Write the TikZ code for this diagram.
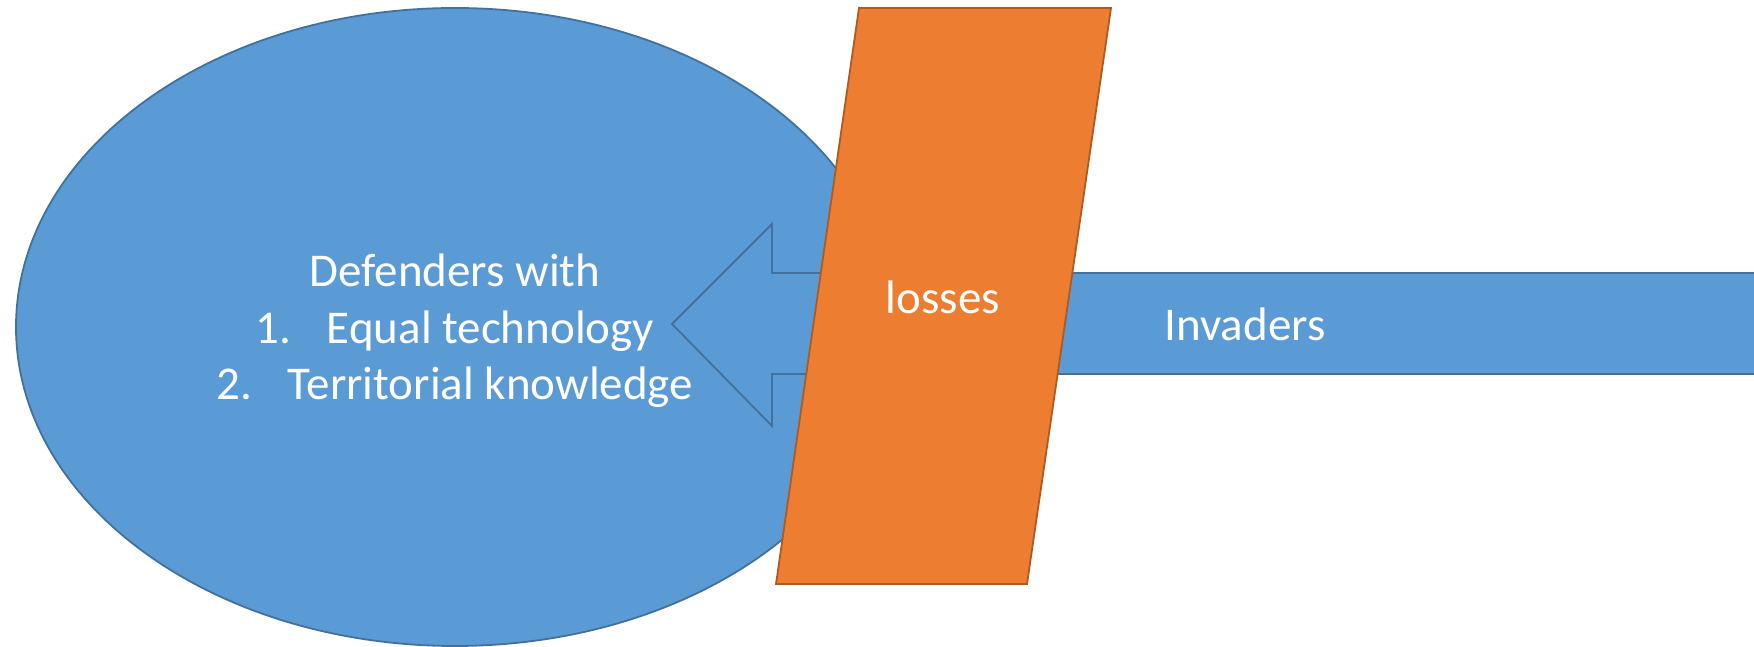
\documentclass[tikz,border=0pt]{standalone}
\usepackage{fontspec}
\setmainfont{Carlito}
\definecolor{defblue}{HTML}{5B9BD5}
\definecolor{defedge}{HTML}{41719C}
\definecolor{lossorange}{HTML}{ED7D31}
\definecolor{lossedge}{HTML}{AE5A21}
\begin{document}
\begin{tikzpicture}[x=1pt,y=1pt,
    blueshape/.style={fill=defblue,draw=defedge,line width=1.8pt,line join=miter},
    orangeshape/.style={fill=lossorange,draw=lossedge,line width=1.8pt,line join=miter},
    lbl/.style={text=white,font=\fontsize{47}{56.5}\selectfont,align=center,inner sep=0pt}]
  \useasboundingbox (0,0) rectangle (1754,647);
  \clip (0,0) rectangle (1754,647);
  % defenders
  \draw[blueshape] (455,320) ellipse [x radius=439,y radius=319];
  % invaders arrow
  \draw[blueshape] (1830,374) -- (772,374) -- (772,423) -- (672,323)
    -- (772,221) -- (772,273) -- (1830,273) -- cycle;
  % losses
  \draw[orangeshape] (859,639) -- (1111,639) -- (1027,63) -- (776,63) -- cycle;
  \node[lbl] (defenders) at (455,316) {Defenders with\\
    \makebox[71pt][l]{1.}Equal technology\\
    \makebox[71pt][l]{2.}Territorial knowledge};
  \node[lbl] (losses) at (943,350) {losses};
  \node[lbl] (invaders) at (1245,323) {Invaders};
\end{tikzpicture}
\end{document}
